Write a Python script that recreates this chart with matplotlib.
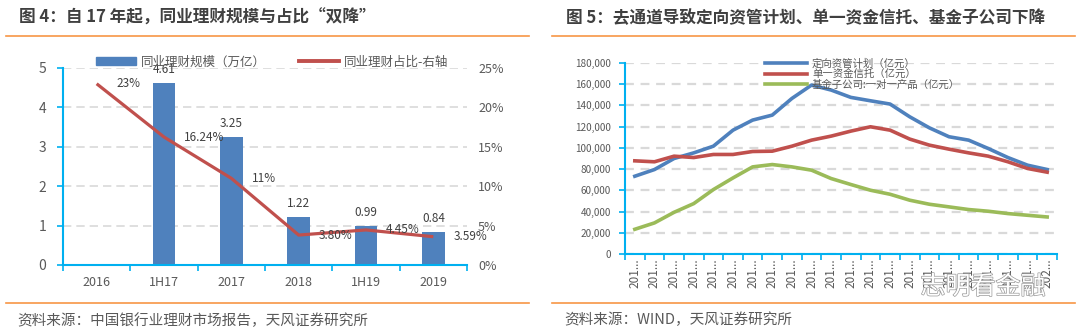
import numpy as np
import matplotlib
matplotlib.use("Agg")
import matplotlib.pyplot as plt
from matplotlib.lines import Line2D
from matplotlib.patches import Patch
import matplotlib.patheffects as pe
from matplotlib.ticker import FuncFormatter, FixedLocator, NullFormatter

plt.rcParams['font.family'] = ['Noto Sans CJK SC', 'DejaVu Sans']

# ---------------- data: left chart ----------------
left_categories = ['2016', '1H17', '2017', '2018', '1H19', '2019']
scale_values = [np.nan, 4.61, 3.25, 1.22, 0.99, 0.84]          # 万亿
ratio_values = [23.0, 16.24, 11.0, 3.80, 4.45, 3.59]            # %
ratio_labels = ['23%', '16.24%', '11%', '3.80%', '4.45%', '3.59%']
left_yticks = [0, 1, 2, 3, 4, 5]
right_yticks = [0, 5, 10, 15, 20, 25]

# ---------------- data: right chart ----------------
right_xlabels = ['201...'] * 21 + ['202...']
dingxiang = [73300, 79600, 90000, 95300, 101600, 116700, 126200, 130900, 146600, 159200, 154500,
             147600, 144400, 141300, 129300, 118900, 110500, 107300, 99400, 90900, 83700, 79600]
danyi = [87800, 86900, 92200, 90900, 93800, 93800, 96600, 96900, 101600, 107300, 111100,
         115800, 119900, 116700, 108300, 102600, 98800, 95300, 92200, 86900, 80600, 77100]
jijinzi = [23300, 29300, 39300, 47500, 60700, 71700, 82100, 84300, 82100, 79000, 71100,
           65500, 60100, 56300, 50700, 46900, 44400, 41900, 40300, 38100, 36500, 34900]
right_chart_yticks = list(range(0, 180001, 20000))

W, H = 1080, 332
fig = plt.figure(figsize=(W / 100, H / 100), dpi=100)
fig.patch.set_facecolor('white')

def fx(px):
    return px / W

def fy(py):
    return (H - py) / H

TITLE_C = '#404040'
TICK_C = '#595959'
ORANGE = '#F79646'
CYAN = '#00B0F0'
GRID_C = '#D9D9D9'
BLUE = '#4F81BD'
RED = '#C0504D'
GREEN = '#9BBB59'

# titles & rules
fig.text(fx(19), fy(18), '图 4：自 17 年起，同业理财规模与占比“双降”', fontsize=12,
         fontweight='bold', color=TITLE_C, va='center', ha='left')
fig.text(fx(566), fy(18), '图 5：去通道导致定向资管计划、单一资金信托、基金子公司下降', fontsize=12,
         fontweight='bold', color=TITLE_C, va='center', ha='left')
for (x0, x1) in [(6, 529), (552, 1075)]:
    for yy in (36, 303):
        fig.add_artist(Line2D([fx(x0), fx(x1)], [fy(yy), fy(yy)], color=ORANGE, lw=1.2))
fig.text(fx(17), fy(321), '资料来源：中国银行业理财市场报告，天风证券研究所', fontsize=10.5,
         color=TICK_C, va='center', ha='left')
fig.text(fx(564), fy(320), '资料来源：WIND，天风证券研究所', fontsize=10.5,
         color=TICK_C, va='center', ha='left')

# ---------------- left chart ----------------
ax = fig.add_axes([fx(63), fy(265), 404 / W, 197 / H])
x = np.arange(len(left_categories))
ax.bar(x, scale_values, width=0.34, color=BLUE, zorder=2)
for xi, v in zip(x, scale_values):
    if not np.isnan(v):
        ax.annotate(f'{v:.2f}', (xi, v), xytext=(0, 5), textcoords='offset points',
                    ha='center', va='bottom', fontsize=8.5, color=TITLE_C, zorder=5)
ax.set_xlim(-0.5, len(left_categories) - 0.5)
ax.set_ylim(0, 5)
ax.set_yticks(left_yticks)
ax.yaxis.grid(True, color=GRID_C, lw=1.2, ls=(0, (5, 3)), zorder=0)
ax.set_axisbelow(True)
ax.xaxis.set_major_locator(FixedLocator(np.arange(-0.5, len(left_categories), 1.0)))
ax.xaxis.set_major_formatter(NullFormatter())
ax.xaxis.set_minor_locator(FixedLocator(x))
ax.set_xticklabels(left_categories, minor=True)
ax.tick_params(axis='x', which='major', length=4, color=CYAN, width=1.2, direction='out')
ax.tick_params(axis='x', which='minor', length=0, labelsize=9, labelcolor=TICK_C, pad=8)
ax.tick_params(axis='y', length=4, color=CYAN, width=1.2, labelsize=10, labelcolor=TICK_C, pad=8)
for s in ('top', 'right'):
    ax.spines[s].set_visible(False)
for s in ('left', 'bottom'):
    ax.spines[s].set_color(CYAN)
    ax.spines[s].set_linewidth(1.5)

ax2 = ax.twinx()
ax2.plot(x, ratio_values, color=RED, lw=2.3, zorder=3, solid_capstyle='butt')
for xi, v, lab in zip(x, ratio_values, ratio_labels):
    ax2.annotate(lab, (xi, v), xytext=(14.5, 0), textcoords='offset points',
                 ha='left', va='center', fontsize=8.5, color=TITLE_C)
ax2.set_ylim(0, 25)
ax2.set_yticks(right_yticks)
ax2.yaxis.set_major_formatter(FuncFormatter(lambda v, p: f'{v:.0f}%'))
ax2.tick_params(axis='y', length=0, labelsize=9, labelcolor=TICK_C, pad=8)
for s in ('top', 'right', 'left', 'bottom'):
    ax2.spines[s].set_visible(False)

handles = [Patch(facecolor=BLUE, edgecolor=BLUE), Line2D([], [], color=RED, lw=2.8)]
fig.legend(handles, ['同业理财规模（万亿）', '同业理财占比-右轴'], loc='center',
           bbox_to_anchor=(fx(272), fy(62)), ncol=2, frameon=False, fontsize=9,
           handlelength=3.2, handleheight=0.6, handletextpad=0.4, columnspacing=2.6,
           borderpad=0, labelcolor=TICK_C)

# ---------------- right chart ----------------
bx = fig.add_axes([fx(625), fy(254), 432 / W, 191 / H])
xr = np.arange(len(right_xlabels))
bx.plot(xr, dingxiang, color=BLUE, lw=2.6, label='定向资管计划（亿元）', zorder=3)
bx.plot(xr, danyi, color=RED, lw=2.6, label='单一资金信托（亿元）', zorder=3)
bx.plot(xr, jijinzi, color=GREEN, lw=2.6, label='基金子公司:一对一产品（亿元）', zorder=3)
bx.set_xlim(-0.5, len(right_xlabels) - 0.5)
bx.set_ylim(0, 180000)
bx.set_yticks(right_chart_yticks)
bx.yaxis.set_major_formatter(FuncFormatter(lambda v, p: f'{v:,.0f}'))
bx.yaxis.grid(True, color=GRID_C, lw=1.6, ls=(0, (4, 3)), zorder=0)
bx.set_axisbelow(True)
bx.xaxis.set_major_locator(FixedLocator(np.arange(-0.5, len(right_xlabels), 1.0)))
bx.xaxis.set_major_formatter(NullFormatter())
bx.xaxis.set_minor_locator(FixedLocator(xr))
bx.set_xticklabels(right_xlabels, minor=True, rotation=90)
bx.tick_params(axis='x', which='major', length=4, color=CYAN, width=1.2, direction='out')
bx.tick_params(axis='x', which='minor', length=0, labelsize=8.5, labelcolor=TICK_C, pad=3)
bx.tick_params(axis='y', length=4, color=CYAN, width=1.2, labelsize=7.2, labelcolor=TICK_C, pad=6)
for s in ('top', 'right'):
    bx.spines[s].set_visible(False)
for s in ('left', 'bottom'):
    bx.spines[s].set_color(CYAN)
    bx.spines[s].set_linewidth(1.5)

leg = bx.legend(loc='upper left', bbox_to_anchor=(fx(760), fy(53)),
                bbox_transform=fig.transFigure, frameon=False, fontsize=7.5,
                handlelength=4.0, handletextpad=0.5, labelspacing=0.05, borderpad=0,
                labelcolor=TICK_C)

# watermark
fig.text(fx(983), fy(287), '志明看金融', fontsize=18, color='white', ha='center', va='center',
         path_effects=[pe.withStroke(linewidth=1.0, foreground='#9a9a9a')], zorder=10)

fig.savefig('out.png', dpi=100, facecolor='white')
